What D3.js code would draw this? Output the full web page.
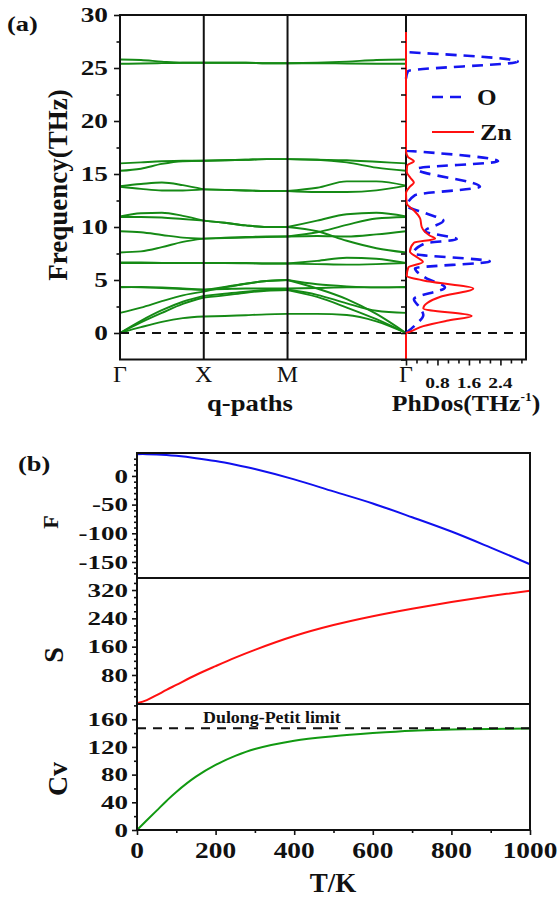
<!DOCTYPE html>
<html>
<head>
<meta charset="utf-8">
<script src="https://cdn.jsdelivr.net/npm/d3@7"></script>
<style>
  body { margin: 0; background: #fff; }
  svg { display: block; }
</style>
</head>
<body>
<div id="chart"></div>
<script>
// ---- data ----
const kLabels = ["Γ", "X", "M", "Γ"];
const kTicks = [0, 1, 2, 2 + Math.SQRT2];
// sample points along Γ-X-M-Γ (path length units)
const kPts = [0, 0.25, 0.5, 0.75, 1, 1.25, 1.5, 1.75, 2,
  2 + Math.SQRT2 * 0.25, 2 + Math.SQRT2 * 0.5, 2 + Math.SQRT2 * 0.75, 2 + Math.SQRT2];

// phonon branches (THz) at each kPt
const bands = [
  [0, 0.55, 1.05, 1.4, 1.55, 1.6, 1.68, 1.76, 1.8, 1.8, 1.7, 1.1, 0],
  [0, 1.0, 1.9, 2.75, 3.35, 3.55, 3.8, 3.98, 4.05, 3.4, 2.4, 1.3, 0],
  [0, 1.15, 2.15, 2.95, 3.5, 3.7, 3.9, 4.05, 4.1, 3.6, 2.8, 2.1, 1.9],
  [1.9, 2.4, 3.0, 3.55, 3.9, 4.3, 4.65, 4.9, 5.0, 4.2, 3.2, 1.8, 0],
  [4.3, 4.35, 4.3, 4.2, 4.05, 4.35, 4.65, 4.9, 5.0, 4.6, 4.4, 4.3, 4.3],
  [4.35, 4.3, 4.25, 4.15, 4.1, 4.15, 4.2, 4.2, 4.2, 4.25, 4.3, 4.3, 4.35],
  [6.6, 6.6, 6.6, 6.6, 6.6, 6.6, 6.6, 6.55, 6.55, 6.8, 7.1, 7.0, 6.6],
  [6.65, 6.65, 6.62, 6.6, 6.6, 6.6, 6.58, 6.55, 6.55, 6.5, 6.45, 6.5, 6.6],
  [7.6, 7.7, 8.1, 8.6, 8.9, 9.0, 9.05, 9.1, 9.1, 9.15, 9.1, 9.3, 9.6],
  [9.6, 9.5, 9.25, 9.0, 8.9, 8.95, 9.0, 9.05, 9.1, 9.5, 10.2, 10.8, 10.95],
  [10.95, 10.95, 10.9, 10.75, 10.6, 10.4, 10.15, 10.0, 10.0, 9.6, 8.7, 8.0, 7.6],
  [11.0, 11.3, 11.35, 11.05, 10.6, 10.4, 10.15, 10.0, 10.0, 10.6, 11.2, 11.35, 11.0],
  [13.85, 14.05, 14.2, 13.95, 13.55, 13.5, 13.45, 13.4, 13.4, 13.7, 14.3, 14.3, 13.9],
  [13.8, 13.6, 13.45, 13.45, 13.55, 13.5, 13.45, 13.4, 13.4, 13.3, 13.3, 13.45, 13.9],
  [16.0, 16.1, 16.2, 16.25, 16.25, 16.3, 16.35, 16.4, 16.4, 16.35, 16.3, 16.15, 16.0],
  [15.3, 15.5, 15.95, 16.2, 16.25, 16.3, 16.35, 16.4, 16.4, 16.35, 16.1, 15.6, 15.3],
  [25.8, 25.75, 25.6, 25.5, 25.5, 25.5, 25.5, 25.45, 25.45, 25.5, 25.6, 25.75, 25.8],
  [25.4, 25.42, 25.46, 25.5, 25.5, 25.5, 25.5, 25.45, 25.45, 25.45, 25.42, 25.4, 25.4]
];

// partial phonon DOS: [frequency THz, states/THz]
const dosOHigh = [[24.0, 0], [24.7, 0.05], [25.6, 2.84], [26.5, 0]];
const dosOLow = [
  [0, 0], [0.8, 0.25], [1.7, 0.44], [2.4, 0.35], [3.2, 0.2], [4.3, 0.99], [5.2, 0.5],
  [6.1, 0.23], [6.75, 2.13], [7.5, 0.19], [8.45, 0.48], [8.85, 1.29], [9.6, 0.48],
  [10.6, 0.95], [11.3, 0.5], [12.0, 0.03], [13.0, 0.23], [13.8, 1.88], [15.5, 0.27],
  [16.2, 2.34], [17.2, 0]
];
const dosZn = [
  [-2.5, 0], [0, 0], [0.12, 0.1], [0.65, 0.44], [1.15, 1.03], [1.6, 1.67], [2.3, 0.44],
  [3.4, 0.86], [4.2, 1.71], [4.85, 0.6], [5.4, 0.02], [6.2, 0.06], [6.7, 0.43],
  [7.1, 0.3], [7.7, 0.1], [8.5, 0.2], [8.9, 0.74], [9.2, 0.6], [10.0, 0.4], [10.8, 0.36],
  [11.6, 0.19], [12.2, 0.02], [13.2, 0], [13.8, 0.1], [14.2, 0.2], [14.6, 0.12],
  [15.2, 0.02], [15.8, 0.03], [16.2, 0.2], [16.6, 0.05], [17.2, 0], [28.4, 0]
];

const freqTicks = [0, 5, 10, 15, 20, 25, 30];
const dosTicks = [0.8, 1.6, 2.4];

// thermodynamic functions vs temperature
const temps = [0, 25, 50, 75, 100, 150, 200, 250, 300, 400, 500, 600, 700, 800, 900, 1000];
const freeEnergy = [38, 38, 37.5, 36.5, 35, 31, 26, 19.5, 12, -6, -27, -48, -72, -97, -125, -154];
const entropy = [0, 9, 23, 38, 52, 80, 105, 129, 151, 190, 221, 246, 267, 286, 303, 318];
const heatCap = [0, 14, 28, 42, 55, 77, 94, 107, 117, 129, 135.5, 140, 143.5, 145, 146, 146.5];
const dulongPetit = 147;

const tTicks = [0, 200, 400, 600, 800, 1000];
const fTicks = [0, -50, -100, -150];
const sTicks = [80, 160, 240, 320];
const cvTicks = [0, 40, 80, 120, 160];

// ---- drawing ----
const serif = "'Liberation Serif','Times New Roman',serif";
const ink = "#111";
const width = 559, height = 899;

const svg = d3.select("#chart").append("svg")
  .attr("width", width)
  .attr("height", height);

function txt(s, x, y, o = {}) {
  return svg.append("text")
    .attr("transform", `translate(${x},${y}) rotate(${o.rot || 0}) scale(${o.sx || 1},1)`)
    .attr("text-anchor", o.anchor || "middle")
    .attr("font-family", serif)
    .attr("font-weight", o.weight || "bold")
    .attr("font-size", o.size || 20)
    .attr("dy", o.dy || null)
    .attr("fill", ink)
    .text(s);
}

function tickAxis(axisFn, scale, values, size, translate) {
  const g = svg.append("g")
    .attr("transform", translate)
    .call(axisFn(scale).tickValues(values).tickSize(size).tickFormat(""));
  g.select(".domain").remove();
  g.selectAll(".tick line").attr("stroke", ink).attr("stroke-width", 1.6);
  return g;
}

// ===== (a) band structure + PhDOS =====
const xk = d3.scaleLinear().domain([0, 2 + Math.SQRT2]).range([120, 406]);
const yf = d3.scaleLinear().domain([-2.5, 30]).range([359.5, 15]);
const xd = d3.scaleLinear().domain([0, 3.05]).range([406, 526]);

// bands, one path per high-symmetry segment
const segs = [[0, 4], [4, 8], [8, 12]];
const bandLine = d3.line().x(d => xk(d[0])).y(d => yf(d[1])).curve(d3.curveMonotoneX);
const bandG = svg.append("g")
  .attr("fill", "none")
  .attr("stroke", "#158a15")
  .attr("stroke-width", 1.9);
bands.forEach(b => {
  segs.forEach(([i0, i1]) => {
    const pts = d3.range(i0, i1 + 1).map(i => [kPts[i], b[i]]);
    bandG.append("path").attr("d", bandLine(pts));
  });
});

// high-symmetry verticals (X, M and the shared Γ edge)
svg.append("g").selectAll("line")
  .data(kTicks.slice(1))
  .join("line")
  .attr("x1", d => xk(d)).attr("x2", d => xk(d))
  .attr("y1", yf(30)).attr("y2", yf(-2.5))
  .attr("stroke", ink).attr("stroke-width", 2);

// zero line across both panels
svg.append("line")
  .attr("x1", xk(0)).attr("x2", xd(3.05))
  .attr("y1", yf(0)).attr("y2", yf(0))
  .attr("stroke", ink).attr("stroke-width", 2)
  .attr("stroke-dasharray", "9,7");

// DOS curves (x as a function of frequency)
const dosLine = d3.line().x(d => xd(d[1])).y(d => yf(d[0])).curve(d3.curveMonotoneY);
[dosOHigh, dosOLow].forEach(part => svg.append("path")
  .attr("d", dosLine(part))
  .attr("fill", "none")
  .attr("stroke", "#1515f0")
  .attr("stroke-width", 2.6)
  .attr("stroke-dasharray", "11,7"));
svg.append("path")
  .attr("d", dosLine(dosZn))
  .attr("fill", "none")
  .attr("stroke", "#ff1010")
  .attr("stroke-width", 2);

// frame
svg.append("rect")
  .attr("x", xk(0)).attr("y", yf(30))
  .attr("width", xd(3.05) - xk(0)).attr("height", yf(-2.5) - yf(30))
  .attr("fill", "none").attr("stroke", ink).attr("stroke-width", 2);

// ticks
tickAxis(d3.axisLeft, yf, freqTicks, 6, `translate(${xk(0)},0)`);
tickAxis(d3.axisLeft, yf, d3.range(2.5, 30, 5), 3.5, `translate(${xk(0)},0)`);
tickAxis(d3.axisLeft, yf, d3.range(-2.5, 30, 2.5), 5, `translate(${xd(0)},0)`);
tickAxis(d3.axisBottom, xd, [0, ...dosTicks], 6, `translate(0,${yf(-2.5)})`);
tickAxis(d3.axisBottom, xd, d3.range(1, 12).filter(i => i % 3).map(i => i * 0.8 / 3), 4, `translate(0,${yf(-2.5)})`);

// tick labels
freqTicks.forEach(v => txt(v, 108, yf(v), { anchor: "end", size: 21, sx: 1.3, dy: "0.35em" }));
dosTicks.forEach(v => txt(v.toFixed(1), xd(v), 388, { size: 15, sx: 1.3 }));
kTicks.forEach((v, i) => txt(kLabels[i], xk(v), 382, { size: 24, weight: "normal" }));

// axis titles
txt("Frequency(THz)", 58, 185, { rot: -90, size: 27, dy: "0.35em" });
txt("q-paths", 250, 411, { size: 23, sx: 1.16 });
const ph = txt("PhDos(THz", 466, 411, { size: 23, sx: 1.12 });
ph.append("tspan").attr("font-size", 12).attr("dy", -10).text("-1");
ph.append("tspan").attr("dy", 10).text(")");
txt("(a)", 7, 31, { anchor: "start", size: 22, sx: 1.2 });

// legend
svg.append("line")
  .attr("x1", 432).attr("x2", 464).attr("y1", 97).attr("y2", 97)
  .attr("stroke", "#1515f0").attr("stroke-width", 2.6).attr("stroke-dasharray", "11,7");
txt("O", 477, 105, { anchor: "start", size: 24, sx: 1.05 });
svg.append("line")
  .attr("x1", 432).attr("x2", 474).attr("y1", 132).attr("y2", 132)
  .attr("stroke", "#ff1010").attr("stroke-width", 2);
txt("Zn", 480, 140, { anchor: "start", size: 24, sx: 1.08 });

// ===== (b) thermodynamics =====
const xt = d3.scaleLinear().domain([0, 1000]).range([137, 530]);
const yF = d3.scaleLinear().domain([-178, 40]).range([578, 453]);
const yS = d3.scaleLinear().domain([-2, 354]).range([704, 578]);
const yC = d3.scaleLinear().domain([0, 182]).range([830, 704]);

const curves = [
  { vals: freeEnergy, y: yF, color: "#1010ee" },
  { vals: entropy, y: yS, color: "#ff1010" },
  { vals: heatCap, y: yC, color: "#119911" }
];
curves.forEach(c => {
  svg.append("path")
    .attr("d", d3.line().x((d, i) => xt(temps[i])).y(d => c.y(d)).curve(d3.curveCatmullRom)(c.vals))
    .attr("fill", "none")
    .attr("stroke", c.color)
    .attr("stroke-width", 2);
});

svg.append("line")
  .attr("x1", xt(0)).attr("x2", xt(1000))
  .attr("y1", yC(dulongPetit)).attr("y2", yC(dulongPetit))
  .attr("stroke", ink).attr("stroke-width", 2)
  .attr("stroke-dasharray", "9,7");
txt("Dulong-Petit limit", 203, 723, { anchor: "start", size: 16, sx: 1.12 });

svg.append("rect")
  .attr("x", xt(0)).attr("y", yF.range()[1])
  .attr("width", xt(1000) - xt(0)).attr("height", yC.range()[0] - yF.range()[1])
  .attr("fill", "none").attr("stroke", ink).attr("stroke-width", 2);
[yS.range()[1], yC.range()[1]].forEach(yy => svg.append("line")
  .attr("x1", xt(0)).attr("x2", xt(1000)).attr("y1", yy).attr("y2", yy)
  .attr("stroke", ink).attr("stroke-width", 2));

const lx = `translate(${xt(0)},0)`;
tickAxis(d3.axisLeft, yF, fTicks, 5, lx);
tickAxis(d3.axisLeft, yF, d3.range(-170, 40, 10).filter(v => v % 50), 3, lx);
tickAxis(d3.axisLeft, yS, sTicks, 5, lx);
tickAxis(d3.axisLeft, yS, d3.range(20, 354, 20).filter(v => v % 80), 3, lx);
tickAxis(d3.axisLeft, yC, cvTicks, 5, lx);
tickAxis(d3.axisLeft, yC, d3.range(20, 182, 40), 3, lx);
tickAxis(d3.axisBottom, xt, tTicks, 5, `translate(0,${yC(0)})`);
tickAxis(d3.axisBottom, xt, d3.range(100, 1000, 200), 3, `translate(0,${yC(0)})`);

fTicks.forEach(v => txt(v, 128, yF(v), { anchor: "end", size: 19, sx: 1.42, dy: "0.35em" }));
sTicks.forEach(v => txt(v, 128, yS(v), { anchor: "end", size: 19, sx: 1.42, dy: "0.35em" }));
cvTicks.forEach(v => txt(v, 128, yC(v), { anchor: "end", size: 19, sx: 1.42, dy: "0.35em" }));
tTicks.forEach(v => txt(v, xt(v), 858, { size: 24, sx: 1.14 }));

txt("F", 50, 522, { rot: -90, size: 22, dy: "0.35em" });
txt("S", 53, 655, { rot: -90, size: 28, dy: "0.35em" });
txt("Cv", 57, 779, { rot: -90, size: 28, dy: "0.35em" });
txt("T/K", 333, 892, { size: 27 });
txt("(b)", 18, 471, { anchor: "start", size: 22, sx: 1.2 });
</script>
</body>
</html>
